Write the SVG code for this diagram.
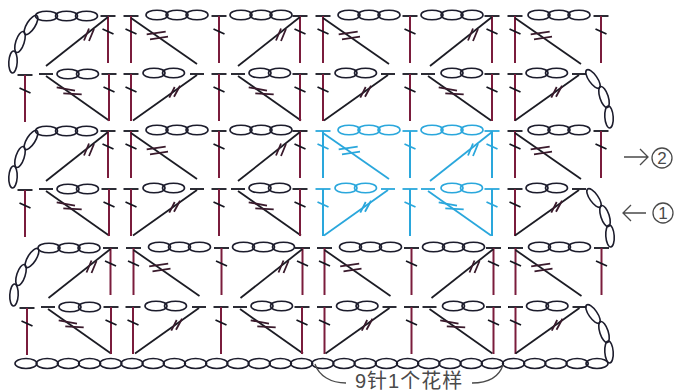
<svg xmlns="http://www.w3.org/2000/svg" width="676" height="392" viewBox="0 0 676 392">
<style>
.k{--bar:#15151f;--stem:#7a1c3c;--dg:#1c1c24;--ov:#1c1c2c;--tick:#3a1a2c}
.b{--bar:#2aa7dc;--stem:#2aa7dc;--dg:#2aa7dc;--ov:#2aa7dc;--tick:#2aa7dc}
.bar{stroke:var(--bar);stroke-width:1.8;fill:none}
.stem{stroke:var(--stem);stroke-width:2;fill:none}
.dl{stroke:var(--dg);stroke-width:1.8;fill:none}
.tick{stroke:var(--tick);stroke-width:1.8;fill:none}
.ov{stroke:var(--ov);stroke-width:1.6;fill:none}
.tx{font-family:"Liberation Sans","Noto Sans CJK SC",sans-serif;font-size:20px;letter-spacing:1px;fill:#4a4a4a}
.num{font-family:"Liberation Sans",sans-serif;font-size:17px;fill:#4a4a4a;text-anchor:middle}
.lead{stroke:#4a4a4a;stroke-width:1.3;fill:none}
</style>
<defs>
<ellipse id="o" class="ov" rx="11" ry="4.800"/>
<ellipse id="ob" class="ov" rx="11" ry="5"/>
<g id="t"><path class="bar" d="M-7.500 0H7.500"/><path class="stem" d="M0 0V47"/><path class="bar" d="M-5.500 13L5.500 18"/></g>
<g id="r1L"><path class="dl" d="M0 1L-62 50"/><path class="tick" d="M-24 24.500L-19 12.500M-19 25L-14 13"/></g>
<g id="r1R"><path class="dl" d="M0 2L66 48"/><path class="tick" d="M15.700 18.300L34.700 15.700M19 23.300L37 20.700"/></g>
<g id="r2L"><path class="bar" d="M-7 0H7"/><path class="dl" d="M0 2L63 46.500"/><path class="tick" d="M10.700 13.300L29 16.700M17.300 19.300L35.700 20.300"/></g>
<g id="r2R"><path class="bar" d="M-7 0H7"/><path class="dl" d="M0 1L-64 46.500"/><path class="tick" d="M-27.700 23.700L-22.300 13M-23 22.800L-17 11.800"/></g>
<g id="c3"><use href="#o" x="0"/><use href="#o" x="20"/><use href="#o" x="40"/></g>
<g id="c2"><use href="#o" x="0"/><use href="#o" x="19.500"/></g>
<g id="leftcurve"><ellipse class="ov" rx="4.200" ry="11" transform="rotate(32)"/><ellipse class="ov" cx="-11" cy="17" rx="4.200" ry="11" transform="rotate(18 -11 17)"/><ellipse class="ov" cx="-18" cy="37" rx="4.200" ry="11" transform="rotate(3 -18 37)"/></g>
<g id="rightcurve"><ellipse class="ov" rx="4.200" ry="11" transform="rotate(-35)"/><ellipse class="ov" cx="11" cy="18" rx="4.200" ry="11" transform="rotate(-18 11 18)"/><ellipse class="ov" cx="16" cy="38" rx="4.200" ry="11" transform="rotate(-4 16 38)"/></g>
<g id="rowA">
<use href="#t" x="108"/><use href="#r1L" x="108"/>
<use href="#t" x="131"/><use href="#r1R" x="131"/><use href="#c3" x="157" y="-1"/>
<use href="#t" x="219"/><use href="#c3" x="241" y="-1"/>
<use href="#t" x="300"/><use href="#r1L" x="300"/>
</g>
<g id="rowB">
<use href="#t" x="25" y="1"/><use href="#r2L" x="46"/><use href="#c2" x="68"/><use href="#t" x="109"/>
<use href="#t" x="131"/><use href="#c2" x="154" y="-1"/><use href="#r2R" x="197"/>
<use href="#t" x="219"/><use href="#r2L" x="238"/><use href="#c2" x="260" y="-1"/><use href="#t" x="300"/>
</g>
<g id="rowARight">
<use href="#t" x="323"/><use href="#r1R" x="323"/><use href="#c3" x="349" y="-1"/>
<use href="#t" x="410"/><use href="#c3" x="432" y="-1"/>
<use href="#t" x="492"/><use href="#r1L" x="492"/>
</g>
<g id="rowBRight">
<use href="#t" x="323"/><use href="#c2" x="346" y="-1"/><use href="#r2R" x="388"/>
<use href="#t" x="410"/><use href="#r2L" x="428"/><use href="#c2" x="452" y="-1"/><use href="#t" x="492"/>
</g>
<g id="rowAEnd">
<use href="#t" x="515"/><use href="#r1R" x="515"/><use href="#c3" x="539" y="-1"/>
<use href="#t" x="601"/>
</g>
<g id="rowBEnd">
<use href="#t" x="515"/><use href="#c2" x="537" y="-1"/><use href="#r2R" x="579"/>
</g>
</defs>
<g id="row1" class="k" transform="translate(0,16)"><use href="#rowA"/><use href="#rowARight"/><use href="#rowAEnd"/><use href="#c3" x="46.500" y="0"/><use href="#leftcurve" x="31" y="9"/></g>
<g id="row2" class="k" transform="translate(0,74)"><use href="#rowB"/><use href="#rowBRight"/><use href="#rowBEnd"/><use href="#rightcurve" x="593" y="5"/></g>
<g id="row3" class="k" transform="translate(0,131)"><use href="#rowA"/><use href="#rowAEnd"/><use href="#c3" x="46.500" y="0"/><use href="#leftcurve" x="31" y="9"/></g>
<g id="row3-blue" class="b" transform="translate(0,131)"><use href="#rowARight"/></g>
<g id="row4" class="k" transform="translate(0,189)"><use href="#rowB"/><use href="#rowBEnd"/><use href="#rightcurve" x="594" y="9"/></g>
<g id="row4-blue" class="b" transform="translate(0,189)"><use href="#rowBRight"/></g>
<g id="row5" class="k" transform="translate(0,248)"><use href="#rowA" x="2.500"/><use href="#rowARight" x="1.500"/><use href="#rowAEnd" x="0.500"/><use href="#c3" x="49" y="0"/><use href="#leftcurve" x="32" y="10"/></g>
<g id="row6" class="k" transform="translate(0,307)"><use href="#rowB" x="2"/><use href="#rowBRight" x="1.500"/><use href="#rowBEnd" x="0.500"/><use href="#rightcurve" x="593" y="7"/></g>
<g id="base" class="k">
<use href="#ob" x="26" y="363.500"/><use href="#ob" x="47.200" y="363.500"/><use href="#ob" x="68.400" y="363.500"/><use href="#ob" x="89.600" y="363.500"/><use href="#ob" x="110.800" y="363.500"/><use href="#ob" x="132" y="363.500"/><use href="#ob" x="153.200" y="363.500"/><use href="#ob" x="174.400" y="363.500"/><use href="#ob" x="195.600" y="363.500"/><use href="#ob" x="216.800" y="363.500"/><use href="#ob" x="238" y="363.500"/><use href="#ob" x="259.200" y="363.500"/><use href="#ob" x="280.400" y="363.500"/><use href="#ob" x="301.600" y="363.500"/><use href="#ob" x="322.800" y="363.500"/><use href="#ob" x="344" y="363.500"/><use href="#ob" x="365.200" y="363.500"/><use href="#ob" x="386.400" y="363.500"/><use href="#ob" x="407.600" y="363.500"/><use href="#ob" x="428.800" y="363.500"/><use href="#ob" x="450" y="363.500"/><use href="#ob" x="471.200" y="363.500"/><use href="#ob" x="492.400" y="363.500"/><use href="#ob" x="513.600" y="363.500"/><use href="#ob" x="534.800" y="363.500"/><use href="#ob" x="556" y="363.500"/><use href="#ob" x="577.200" y="363.500"/><use href="#ob" x="597" y="363.500"/>
</g>
<g id="connectors">
<path class="lead" d="M315 364C319 376 331 383 346 383"/>
<path class="lead" d="M472 383C488 383 499 377 503 365"/>
<path class="lead" d="M624 157H648M640 149L648 157L640 165"/>
<path class="lead" d="M646 213H623M631 205L623 213L631 221"/>
</g>
<g id="label-repeat"><text class="tx" x="355" y="387.500">9针1个花样</text></g>
<g id="label-2"><circle class="lead" cx="662" cy="158" r="10"/><text class="num" x="662" y="164">2</text></g>
<g id="label-1"><circle class="lead" cx="663" cy="213" r="10"/><text class="num" x="663" y="219">1</text></g>
</svg>
